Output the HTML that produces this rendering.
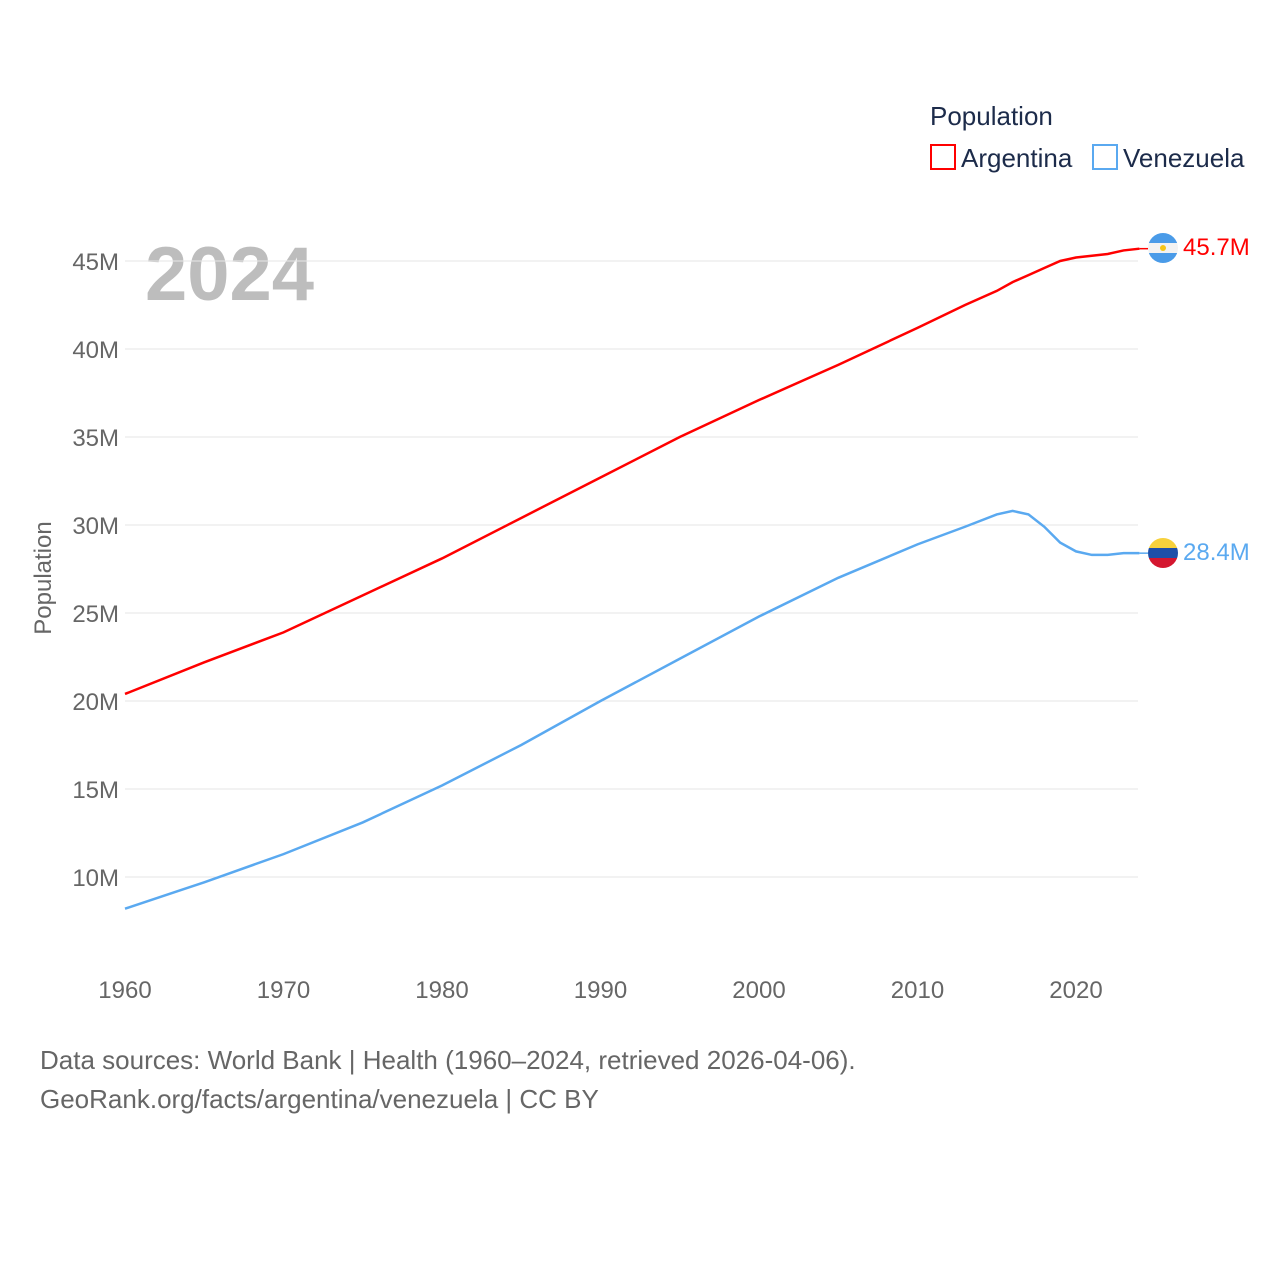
<!DOCTYPE html>
<html><head><meta charset="utf-8">
<style>
body{margin:0;background:#fff;}
svg{display:block;font-family:"Liberation Sans",sans-serif;}
</style></head>
<body>
<svg id="chart" width="1280" height="1280">
<text x="930" y="125" font-size="26" fill="#1c2b4a">Population</text>
<g>
<rect x="931" y="145" width="24" height="24" fill="none" stroke="#ff0000" stroke-width="2"/>
<text x="961" y="167" font-size="26" fill="#1c2b4a">Argentina</text></g>
<g>
<rect x="1093" y="145" width="24" height="24" fill="none" stroke="#5aa9f0" stroke-width="2"/>
<text x="1123" y="167" font-size="26" fill="#1c2b4a">Venezuela</text></g>
<text x="145" y="300" font-size="76" font-weight="bold" fill="#bdbdbd">2024</text>
<text transform="translate(51,578) rotate(-90)" text-anchor="middle" font-size="24" fill="#666">Population</text>
<g id="grid"></g><g id="yt"></g><g id="xt"></g><g id="lines"></g>
<g>
<clipPath id="ca"><circle cx="1163" cy="248" r="15"/></clipPath>
<g clip-path="url(#ca)"><rect x="1148" y="233" width="30" height="10" fill="#4a9be8"/><rect x="1148" y="243" width="30" height="10" fill="#f2f2f2"/><rect x="1148" y="253" width="30" height="10" fill="#4a9be8"/><circle cx="1163" cy="248" r="3" fill="#f5c518"/></g></g>
<g>
<clipPath id="cv"><circle cx="1163" cy="553" r="15"/></clipPath>
<g clip-path="url(#cv)"><rect x="1148" y="538" width="30" height="10" fill="#f7d13c"/><rect x="1148" y="548" width="30" height="10" fill="#1f4fa8"/><rect x="1148" y="558" width="30" height="10" fill="#d4162f"/></g></g>
<text x="1183" y="255" font-size="24" fill="#ff0000">45.7M</text>
<text x="1183" y="560" font-size="24" fill="#5aa9f0">28.4M</text>
<text x="40" y="1069" font-size="26" fill="#666">Data sources: World Bank | Health (1960–2024, retrieved 2026-04-06).</text>
<text x="40" y="1108" font-size="26" fill="#666">GeoRank.org/facts/argentina/venezuela | CC BY</text>
</svg>
<script>
const years=[1960,1965,1970,1975,1980,1985,1990,1995,2000,2005,2010,2013,2015,2016,2017,2018,2019,2020,2021,2022,2023,2024];
const argentina=[20.4,22.2,23.9,26.0,28.1,30.4,32.7,35.0,37.1,39.1,41.2,42.5,43.3,43.8,44.2,44.6,45.0,45.2,45.3,45.4,45.6,45.7];
const venezuela=[8.2,9.7,11.3,13.1,15.2,17.5,20.0,22.4,24.8,27.0,28.9,29.9,30.6,30.8,30.6,29.9,29.0,28.5,28.3,28.3,28.4,28.4];
const yTicks=[10,15,20,25,30,35,40,45];
const xTicks=[1960,1970,1980,1990,2000,2010,2020];
const NS="http://www.w3.org/2000/svg";
const X=y=>125+(y-1960)*951/60;
const Y=v=>877-(v-10)*17.6;
function mk(t,a,p){const e=document.createElementNS(NS,t);for(const k in a)e.setAttribute(k,a[k]);document.getElementById(p).appendChild(e);return e;}
yTicks.forEach(v=>{
 const l=mk('line',{x1:125,x2:1138,y1:Y(v),y2:Y(v),stroke:'#e6e6e6','stroke-width':1},'grid');
 
 
 const t=mk('text',{x:119,y:Y(v)+9,'text-anchor':'end','font-size':24,fill:'#666'},'yt');t.textContent=v+'M';
 
 
});
xTicks.forEach(v=>{
 const t=mk('text',{x:X(v),y:998,'text-anchor':'middle','font-size':24,fill:'#666'},'xt');t.textContent=v;
 
 
});
function line(d,c,n){
 const p=mk('path',{d:d.map((v,i)=>(i?'L':'M')+X(years[i])+','+Y(v)).join(''),fill:'none',stroke:c,'stroke-width':2.5},'lines');
 
 
 const last=d[d.length-1];
 mk('line',{x1:X(2024),x2:1148,y1:Y(last),y2:Y(last),stroke:c,'stroke-width':1.5},'lines');
}
line(argentina,'#ff0000','argentina-line');
line(venezuela,'#5aa9f0','venezuela-line');
</script>
</body></html>
